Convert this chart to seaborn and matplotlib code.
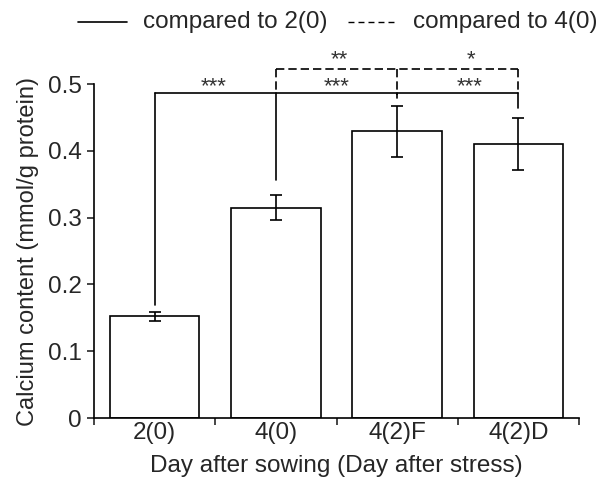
import matplotlib
matplotlib.use("Agg")
import matplotlib.pyplot as plt
import seaborn as sns
import pandas as pd
from matplotlib.lines import Line2D

categories = ["2(0)", "4(0)", "4(2)F", "4(2)D"]
means = [0.152, 0.315, 0.429, 0.410]
errors = [0.007, 0.019, 0.038, 0.039]
yticks = [0, 0.1, 0.2, 0.3, 0.4, 0.5]
ytick_labels = ["0", "0.1", "0.2", "0.3", "0.4", "0.5"]
legend_labels = ["compared to 2(0)", "compared to 4(0)"]
sig_solid = ["***", "***", "***"]
sig_dashed = ["**", "*"]

sns.set_style("ticks")
plt.rcParams["font.family"] = ["Liberation Sans", "DejaVu Sans"]
FS = 17.5

df = pd.DataFrame({"cat": categories, "val": means})

fig = plt.figure(figsize=(6.04, 4.90), dpi=100)
ax = fig.add_axes([94 / 604, 1 - 418 / 490, (579 - 94) / 604, (418 - 84) / 490])

sns.barplot(data=df, x="cat", y="val", order=categories, color="white",
            edgecolor="black", linewidth=1.2, width=0.74, ax=ax, errorbar=None,
            saturation=1)
for p in ax.patches:
    p.set_facecolor("white")
    p.set_edgecolor("black")
    p.set_zorder(2)

ax.errorbar(x=list(range(len(categories))), y=means, yerr=errors, fmt="none",
            ecolor="black", elinewidth=1.2, capsize=4, capthick=1.2, zorder=3)

ax.set_xlim(-0.5, 3.5)
ax.set_ylim(0, 0.5)
ax.set_yticks(yticks)
ax.set_yticklabels(ytick_labels, fontsize=FS)
ax.set_xticks([-0.5, 0.5, 1.5, 2.5, 3.5])
ax.set_xticklabels([])
ax.set_xticks(list(range(len(categories))), minor=True)
ax.set_xticklabels(categories, minor=True, fontsize=FS)
ax.tick_params(axis="x", which="major", direction="out", length=5, width=1.2)
ax.tick_params(axis="x", which="minor", length=0, pad=3)
ax.tick_params(axis="y", direction="out", length=5, width=1.2, pad=4)
for s in ["top", "right"]:
    ax.spines[s].set_visible(False)
for s in ["left", "bottom"]:
    ax.spines[s].set_linewidth(1.2)
    ax.spines[s].set_color("black")

ax.set_xlabel("Day after sowing (Day after stress)", fontsize=FS, labelpad=8)
ax.set_ylabel("Calcium content (mmol/g protein)", fontsize=17, labelpad=6)

# significance brackets
lw = 1.2
ys, yd = 0.486, 0.522
kw = dict(color="black", lw=lw, clip_on=False, zorder=4)
ax.plot([0, 3], [ys, ys], **kw)
ax.plot([0, 0], [ys, 0.169], **kw)
ax.plot([1, 1], [ys, 0.356], **kw)
ax.plot([2, 2], [ys, 0.479], **kw)
ax.plot([3, 3], [ys, 0.464], **kw)
dkw = dict(color="black", lw=lw, clip_on=False, zorder=4, linestyle=(0, (5.0, 2.4)))
ax.plot([1, 3], [yd, yd], **dkw)
ax.plot([1, 1], [yd, ys], **dkw)
ax.plot([2, 2], [yd, 0.483], **dkw)
ax.plot([3, 3], [yd, ys], **dkw)

sfs = 16
for xpos, lab in zip([0.49, 1.50, 2.595], sig_solid):
    ax.text(xpos, 0.488, lab, ha="center", va="baseline", fontsize=sfs,
            color="#333333", clip_on=False)
for xpos, lab in zip([1.52, 2.61], sig_dashed):
    ax.text(xpos, 0.528, lab, ha="center", va="baseline", fontsize=sfs,
            color="#333333", clip_on=False)

# legend at top
ly = 1 - 22 / 490
fig.add_artist(Line2D([78 / 604, 127 / 604], [ly, ly], color="black", lw=1.2,
                      transform=fig.transFigure))
fig.text(143 / 604, ly, legend_labels[0], ha="left", va="center", fontsize=FS)
fig.add_artist(Line2D([348 / 604, 397 / 604], [ly, ly], color="black", lw=1.0,
                      linestyle=(0, (4.3, 2.9)), transform=fig.transFigure))
fig.text(413 / 604, ly, legend_labels[1], ha="left", va="center", fontsize=FS)

fig.savefig("out.png", dpi=100)
